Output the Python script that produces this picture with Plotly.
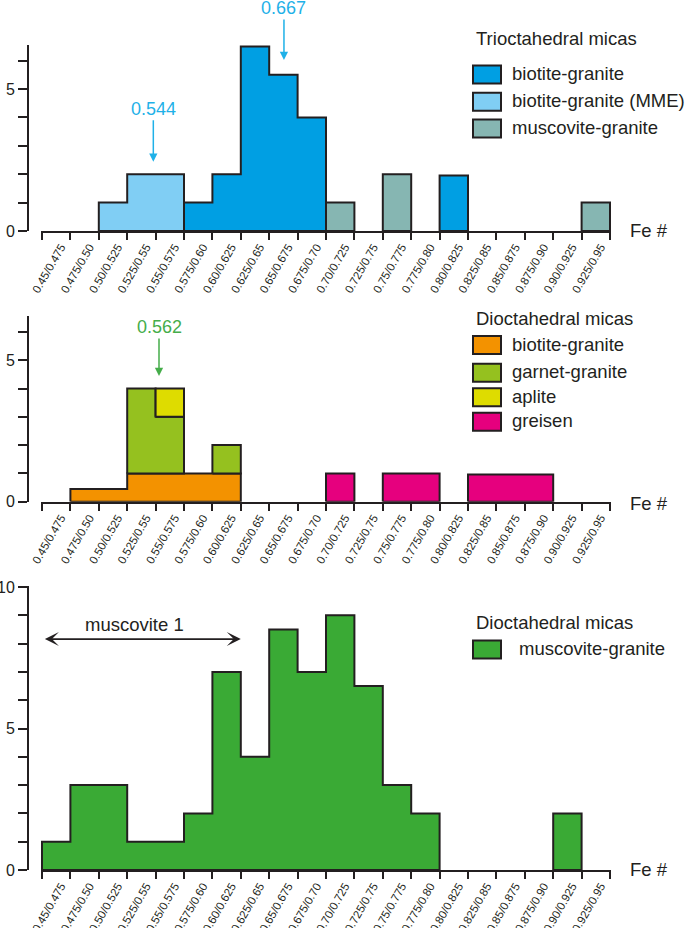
import plotly.graph_objects as go

# ---------------- data ----------------
bin_labels = ["0.45/0.475", "0.475/0.50", "0.50/0.525", "0.525/0.55", "0.55/0.575",
              "0.575/0.60", "0.60/0.625", "0.625/0.65", "0.65/0.675", "0.675/0.70",
              "0.70/0.725", "0.725/0.75", "0.75/0.775", "0.775/0.80", "0.80/0.825",
              "0.825/0.85", "0.85/0.875", "0.875/0.90", "0.90/0.925", "0.925/0.95"]

# Trioctahedral micas
tri_biotite = [0, 0, 0, 0, 0, 1, 2, 6.5, 5.5, 4, 0, 0, 0, 0, 1.95, 0, 0, 0, 0, 0]
tri_mme     = [0, 0, 1, 2, 2, 0, 0, 0, 0, 0, 0, 0, 0, 0, 0, 0, 0, 0, 0, 0]
tri_musc    = [0, 0, 0, 0, 0, 0, 0, 0, 0, 0, 1, 0, 2, 0, 0, 0, 0, 0, 0, 1]

# Dioctahedral micas (stacked)
dio_biotite = [0, 0.45, 0.45, 1, 1, 1, 1, 0, 0, 0, 0, 0, 0, 0, 0, 0, 0, 0, 0, 0]
dio_garnet  = [0, 0, 0, 3, 2, 0, 1, 0, 0, 0, 0, 0, 0, 0, 0, 0, 0, 0, 0, 0]
dio_aplite  = [0, 0, 0, 0, 1, 0, 0, 0, 0, 0, 0, 0, 0, 0, 0, 0, 0, 0, 0, 0]
dio_greisen = [0, 0, 0, 0, 0, 0, 0, 0, 0, 0, 1, 0, 1, 1, 0, 0.96, 0.96, 0.96, 0, 0]

# Dioctahedral micas, muscovite-granite
musc_granite = [1, 3, 3, 1, 1, 2, 7, 4, 8.5, 7, 9, 6.5, 3, 2, 0, 0, 0, 0, 2, 0]

# ---------------- style ----------------
W, H = 685, 928
FONT = "Liberation Sans, Arial, sans-serif"
INK = "#231f20"
C_BIO = "#009fe3"
C_MME = "#80cef4"
C_MUS = "#86b6b2"
C_ORA = "#f39200"
C_GAR = "#95c11f"
C_APL = "#dedc00"
C_GRE = "#e6007e"
C_GRN = "#3aaa35"
C_CYAN = "#1fb1e8"
C_ANN_G = "#45ad4a"


def px(x):
    return x / W


def py(y):
    return 1 - y / H


fig = go.Figure()


def add_series(values, base, color, xa, ya):
    n = len(values)
    top = [base[k] + values[k] for k in range(n)]
    xs, ys = [], []
    i = 0
    while i < n:
        if values[i] <= 0:
            i += 1
            continue
        j = i
        while j + 1 < n and values[j + 1] > 0:
            j += 1
        px_, py_ = [i], [base[i]]
        for k in range(i, j + 1):
            px_ += [k, k + 1]
            py_ += [top[k], top[k]]
        for k in range(j, i - 1, -1):
            px_ += [k + 1, k]
            py_ += [base[k], base[k]]
        xs += px_ + [None]
        ys += py_ + [None]
        i = j + 1
    fig.add_trace(go.Scatter(x=xs, y=ys, mode="lines", fill="toself", fillcolor=color,
                             line=dict(color=INK, width=2), xaxis=xa, yaxis=ya,
                             showlegend=False, hoverinfo="skip"))
    return top


zero = [0] * len(bin_labels)
# panel 1
add_series(tri_mme, zero, C_MME, "x", "y")
add_series(tri_biotite, zero, C_BIO, "x", "y")
add_series(tri_musc, zero, C_MUS, "x", "y")
# panel 2 (stacked)
b1 = add_series(dio_biotite, zero, C_ORA, "x2", "y2")
b2 = add_series(dio_garnet, b1, C_GAR, "x2", "y2")
b3 = add_series(dio_aplite, b2, C_APL, "x2", "y2")
add_series(dio_greisen, zero, C_GRE, "x2", "y2")
# panel 3
add_series(musc_granite, zero, C_GRN, "x3", "y3")

LABEL_SHIFT = 0.17   # rotated labels sit slightly right of bin centre
label_pos = [k + 0.5 + LABEL_SHIFT for k in range(len(bin_labels))]
edges = list(range(len(bin_labels) + 1))

unit_px = 28.4
x_left = 42 - 0.04 * unit_px
x_right = 610 + 0.04 * unit_px


def xaxis_cfg(anchor):
    return dict(domain=[px(x_left), px(x_right)], anchor=anchor, range=[-0.04, 20.04],
                automargin=False,
                tickmode="array", tickvals=label_pos, ticktext=bin_labels, tickangle=-60,
                ticks="outside", ticklen=3, tickcolor="rgba(0,0,0,0)",
                tickfont=dict(size=11.5, color=INK, family=FONT),
                showline=True, linecolor=INK, linewidth=2,
                showgrid=False, zeroline=False,
                minor=dict(tickmode="array", tickvals=edges, ticks="outside", ticklen=7,
                           tickcolor=INK, tickwidth=2, showgrid=False))


def yaxis_cfg(y0px, upp, top, labels):
    n = len(labels)
    return dict(domain=[py(y0px), py(y0px - top * upp)], anchor="free", position=px(28),
                automargin=False,
                range=[0, top], tickmode="array", tickvals=list(range(n)), ticktext=labels,
                ticks="outside", ticklen=9, tickwidth=2, tickcolor=INK,
                tickfont=dict(size=16, color=INK, family=FONT),
                showline=True, linecolor=INK, linewidth=2, showgrid=False, zeroline=False)


fig.update_layout(
    template="none",
    width=W, height=H, margin=dict(l=0, r=0, t=0, b=0, pad=0, autoexpand=False),
    paper_bgcolor="white", plot_bgcolor="rgba(0,0,0,0)",
    font=dict(family=FONT, color=INK),
    xaxis=xaxis_cfg("y"), xaxis2=xaxis_cfg("y2"), xaxis3=xaxis_cfg("y3"),
    yaxis=yaxis_cfg(231, 28.4, 6.55, ["0", "", "", "", "", "5", ""]),
    yaxis2=yaxis_cfg(501.7, 28.3, 6.55, ["0", "", "", "", "", "5", ""]),
    yaxis3=yaxis_cfg(870, 28.3, 10.05, ["0", "", "", "", "", "5", "", "", "", "", "10"]),
    showlegend=False,
)

ann = []
shapes = []

# Fe # labels
for yy in (231, 503, 869):
    ann.append(dict(x=px(628), y=py(yy), xref="paper", yref="paper", text="Fe #",
                    showarrow=False, xanchor="left", yanchor="middle",
                    font=dict(size=18.5, color=INK, family=FONT)))

# mean arrows
for (xv, yv, ay, txt, col, xr, yr) in [
        (8.52, 6.02, -52, "0.667", C_CYAN, "x", "y"),
        (3.92, 2.44, -53, "0.544", C_CYAN, "x", "y"),
        (4.12, 4.44, -49, "0.562", C_ANN_G, "x2", "y2")]:
    ann.append(dict(x=xv, y=yv, xref=xr, yref=yr, text=txt, showarrow=True,
                    ax=0, ay=ay, arrowhead=2, arrowsize=1.1, arrowwidth=1.5,
                    arrowcolor=col, font=dict(size=18, color=col, family=FONT)))

# muscovite 1 double arrow
ann.append(dict(x=7, y=8.16, xref="x3", yref="y3", ax=0.05, ay=8.16, axref="x3", ayref="y3",
                text="", showarrow=True, arrowside="end+start", arrowhead=3,
                startarrowhead=3, arrowsize=1.3, startarrowsize=1.3, arrowwidth=1.8,
                arrowcolor=INK))
ann.append(dict(x=3.27, y=8.66, xref="x3", yref="y3", text="muscovite 1", showarrow=False,
                font=dict(size=18.5, color=INK, family=FONT)))


def legend(title, title_y, items, text_x=510):
    ann.append(dict(x=px(474), y=py(title_y), xref="paper", yref="paper", text=title,
                    showarrow=False, xanchor="left", yanchor="middle",
                    font=dict(size=18.5, color=INK, family=FONT)))
    for name, col, cy in items:
        shapes.append(dict(type="rect", xref="paper", yref="paper",
                           x0=px(473), x1=px(501), y0=py(cy + 9), y1=py(cy - 9),
                           fillcolor=col, line=dict(color=INK, width=2)))
        ann.append(dict(x=px(text_x), y=py(cy - 1), xref="paper", yref="paper", text=name,
                        showarrow=False, xanchor="left", yanchor="middle",
                        font=dict(size=18.5, color=INK, family=FONT)))


legend("Trioctahedral micas", 38.5, [("biotite-granite", C_BIO, 74.5),
                                      ("biotite-granite (MME)", C_MME, 101.7),
                                      ("muscovite-granite", C_MUS, 128.5)])
legend("Dioctahedral micas", 318.3, [("biotite-granite", C_ORA, 345),
                                      ("garnet-granite", C_GAR, 372.8),
                                      ("aplite", C_APL, 397.2),
                                      ("greisen", C_GRE, 421.7)])
legend("Dioctahedral micas", 622.7, [("muscovite-granite", C_GRN, 649.5)], text_x=517)

fig.update_layout(annotations=ann, shapes=shapes)
fig.write_html("out.html",
               config={"displayModeBar": False},
               post_script="document.body.style.margin='0';"
                           "document.body.style.overflow='hidden';")
